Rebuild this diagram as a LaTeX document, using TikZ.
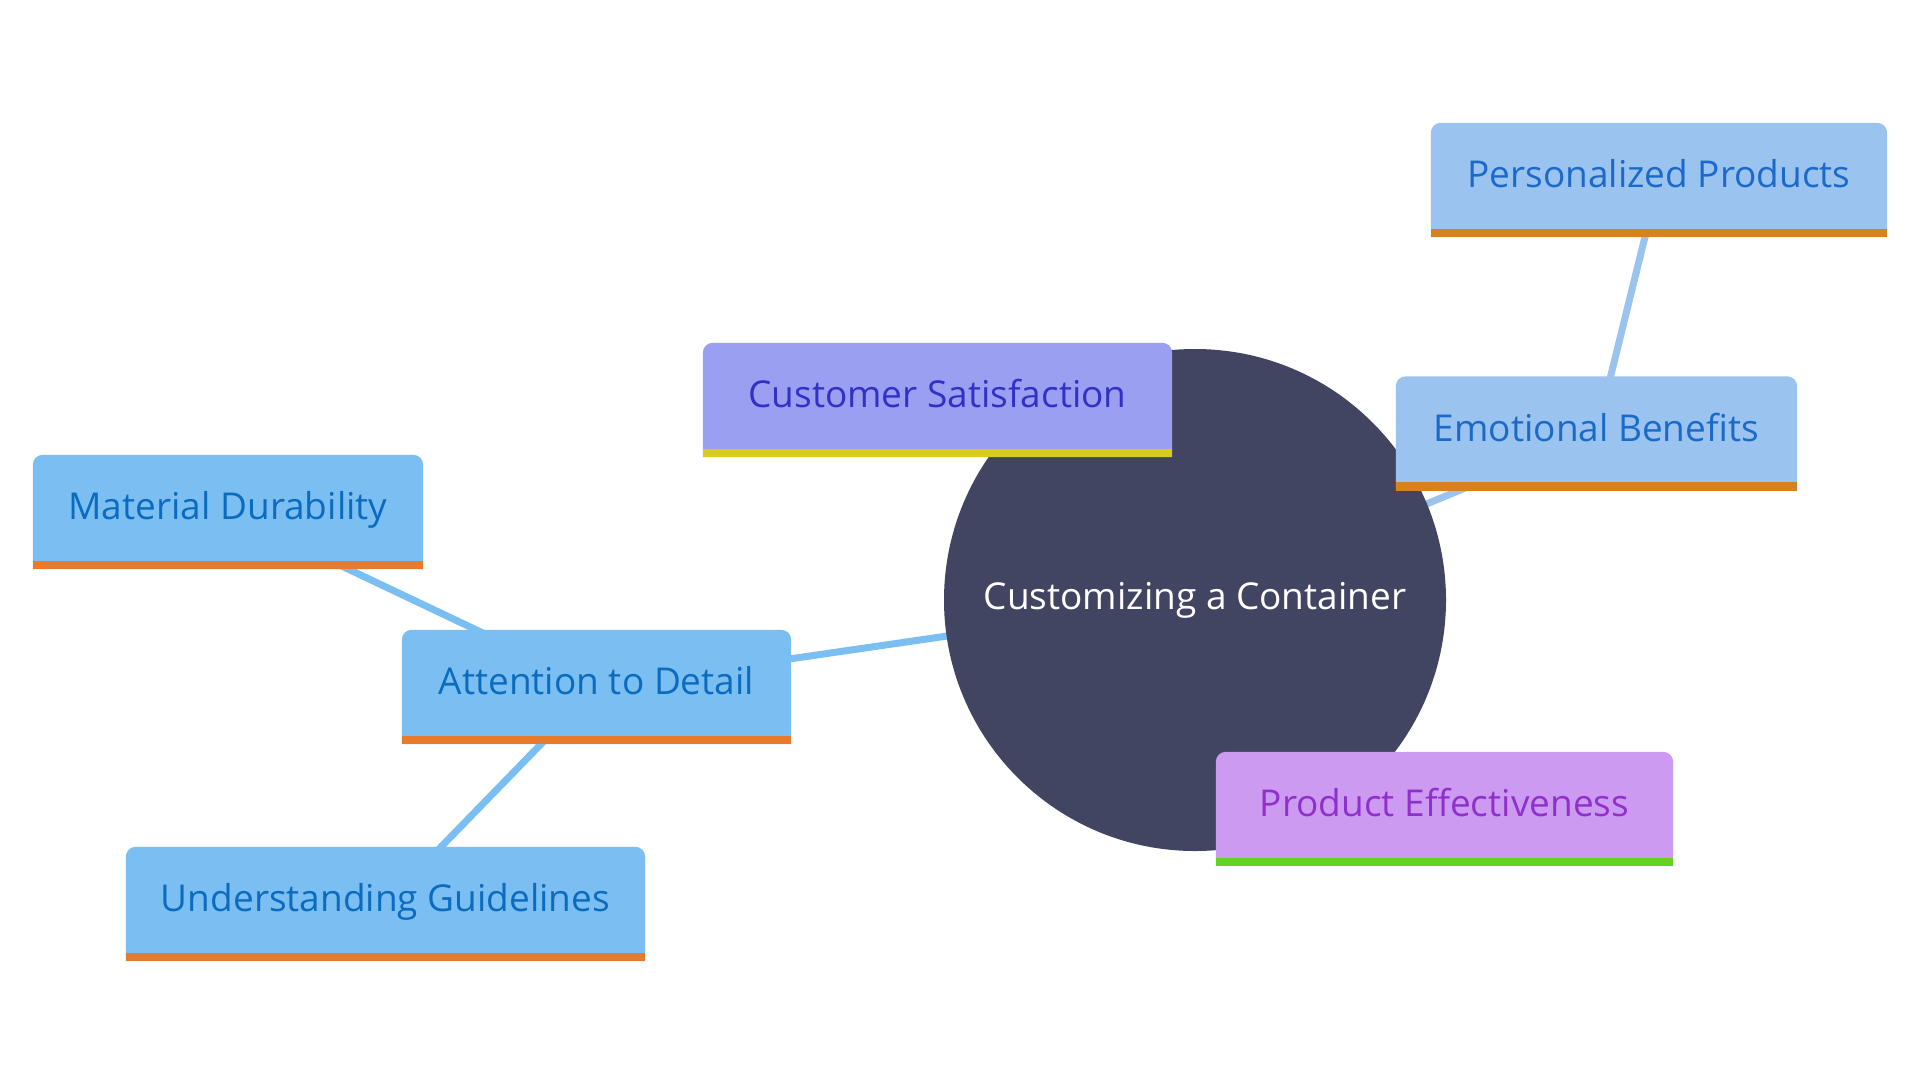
\documentclass[tikz,border=0pt]{standalone}
\usepackage{fontspec}
\setmainfont{Open Sans}
\pgfdeclarelayer{paper}
\pgfdeclarelayer{edges}
\pgfdeclarelayer{hub}
\pgfdeclarelayer{fills}
\pgfsetlayers{paper,edges,hub,fills,main}
\definecolor{hubc}{HTML}{414562}
\definecolor{bluefill}{HTML}{7BBFF2}
\definecolor{bluetext}{HTML}{0B6BBF}
\definecolor{bluebar}{HTML}{E87A2C}
\definecolor{lbfill}{HTML}{9BC3EF}
\definecolor{lbtext}{HTML}{1B6AC9}
\definecolor{lbbar}{HTML}{D4831F}
\definecolor{csfill}{HTML}{9A9FF2}
\definecolor{cstext}{HTML}{3131C6}
\definecolor{csbar}{HTML}{D6CD1D}
\definecolor{pefill}{HTML}{CD9AF1}
\definecolor{petext}{HTML}{9030CC}
\definecolor{pebar}{HTML}{66D41F}
\tikzset{
  boxshape/.style={rectangle, draw=none, inner sep=0pt, minimum height=114pt},
  lbl/.style={anchor=base, inner sep=0pt, font=\fontsize{37}{44}\selectfont},
  edgeA/.style={draw=bluefill, line width=7pt},
  edgeB/.style={draw=lbfill, line width=7pt},
}
% name, cx, cy, width, fill, text colour, bar colour, text
\newcommand\mmbox[8]{%
  \node[boxshape, minimum width=#4pt] (#1) at (#2,#3) {};
  \begin{pgfonlayer}{fills}
    \fill[#5] (#1.south west) [rounded corners=10pt] -- (#1.north west) -- (#1.north east) [sharp corners] -- (#1.south east) -- cycle;
    \fill[#7] (#1.south west) rectangle ([yshift=8.5pt]#1.south east);
  \end{pgfonlayer}
  \node[lbl, text=#6] (#1-t) at ([yshift=-7.5pt]#1.center) {#8};
}
\begin{document}
\begin{tikzpicture}[x=1pt,y=-1pt]
\useasboundingbox (0,0) rectangle (1920,1080);
\begin{pgfonlayer}{paper}
  \fill[white] (0,0) rectangle (1920,1080);
\end{pgfonlayer}

\begin{pgfonlayer}{hub}
  \node[circle, fill=hubc, minimum size=502pt, inner sep=0pt] (root) at (1195,600) {};
\end{pgfonlayer}
\node[lbl, text=white] (root-t) at (1195,609) {Customizing a Container};

\mmbox{mat}{228}{512}{390}{bluefill}{bluetext}{bluebar}{Material Durability}
\mmbox{att}{596.5}{687}{389}{bluefill}{bluetext}{bluebar}{Attention to Detail}
\mmbox{und}{385.5}{904}{519}{bluefill}{bluetext}{bluebar}{Understanding Guidelines}
\mmbox{cus}{937.5}{400}{469}{csfill}{cstext}{csbar}{Customer Satisfaction}
\mmbox{per}{1659}{180}{456}{lbfill}{lbtext}{lbbar}{Personalized Products}
\mmbox{emo}{1596.5}{433.5}{401}{lbfill}{lbtext}{lbbar}{Emotional Benefits}
\mmbox{pro}{1444.5}{809}{457}{pefill}{petext}{pebar}{Product Effectiveness}

\begin{pgfonlayer}{edges}
  \draw[edgeA] (root.center) -- (att.center);
  \draw[edgeA] (att.center) -- (mat.center);
  \draw[edgeA] (att.center) -- (und.center);
  \draw[edgeB] (root.center) -- (emo.center);
  \draw[edgeB] (emo.center) -- (per.center);
\end{pgfonlayer}
\end{tikzpicture}
\end{document}
